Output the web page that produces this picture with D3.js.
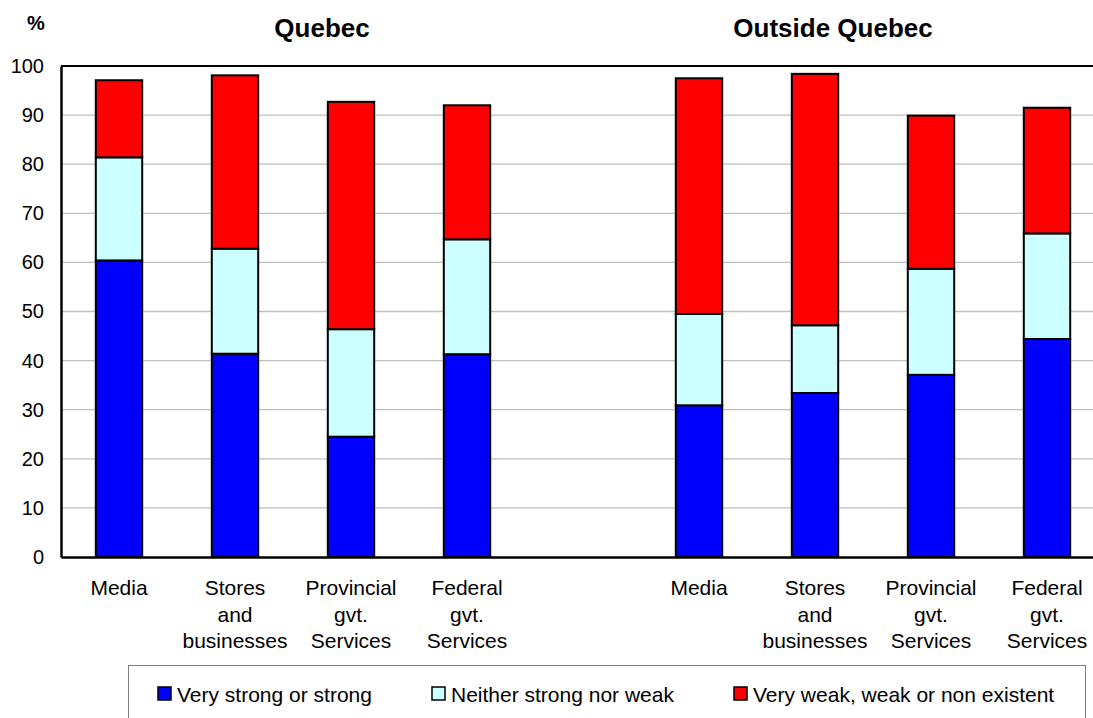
<!DOCTYPE html>
<html lang="en">
<head>
  <meta charset="UTF-8">
  <title>Quebec vs Outside Quebec</title>
  <script src="https://d3js.org/d3.v7.min.js"></script>
  <style>
    body { margin: 0; background: #fff; }
    svg { display: block; font-family: Arial, "Liberation Sans", sans-serif; }
    .tick text { font-size: 20px; fill: #000; }
    .title { font-size: 26px; font-weight: bold; }
    .legend text { font-size: 21px; }
  </style>
</head>
<body>
  <div id="chart"></div>
  <script>
    // data
    const regions = ["Quebec", "Outside Quebec"];
    const categories = ["Media", "Stores and businesses", "Provincial gvt. Services", "Federal gvt. Services"];
    const categoryLines = [["Media"], ["Stores", "and", "businesses"], ["Provincial", "gvt.", "Services"], ["Federal", "gvt.", "Services"]];
    const seriesNames = ["Very strong or strong", "Neither strong nor weak", "Very weak, weak or non existent"];
    // values per region, in category order
    const strongQuebec  = [60.4, 41.4, 24.5, 41.3];
    const neitherQuebec = [21.0, 21.4, 21.9, 23.4];
    const weakQuebec    = [15.7, 35.3, 46.3, 27.3];
    const strongOutside  = [30.9, 33.4, 37.1, 44.4];
    const neitherOutside = [18.6, 13.8, 21.6, 21.5];
    const weakOutside    = [48.0, 51.2, 31.2, 25.6];
    const yTicks = [0, 10, 20, 30, 40, 50, 60, 70, 80, 90, 100];

    const colors = ["#0000ff", "#ccffff", "#ff0000"];

    const width = 1093, height = 718;
    const margin = { top: 66, left: 61, bottom: 161 };
    const plotRight = 1105; // plot area runs past the window edge

    const svg = d3.select("#chart").append("svg")
      .attr("width", width)
      .attr("height", height);

    // build rows: one per bar, with an empty slot between the two regions
    const rows = [];
    const values = [
      [strongQuebec, neitherQuebec, weakQuebec],
      [strongOutside, neitherOutside, weakOutside]
    ];
    regions.forEach((r, ri) => {
      categories.forEach((c, ci) => {
        rows.push({ key: r + "|" + c, ci: ci, s0: values[ri][0][ci], s1: values[ri][1][ci], s2: values[ri][2][ci] });
      });
    });
    const domain = rows.slice(0, 4).map(d => d.key).concat(["gap"]).concat(rows.slice(4).map(d => d.key));

    const x = d3.scaleBand()
      .domain(domain)
      .range([margin.left, plotRight])
      .paddingInner(0.6)
      .paddingOuter(0.3);

    const y = d3.scaleLinear()
      .domain([0, 100])
      .range([height - margin.bottom, margin.top]);

    // gridlines
    svg.append("g")
      .selectAll("line")
      .data(yTicks.filter(t => t > 0 && t < 100))
      .enter().append("line")
      .attr("x1", margin.left).attr("x2", plotRight)
      .attr("y1", d => y(d)).attr("y2", d => y(d))
      .attr("stroke", "#c0c0c0")
      .attr("stroke-width", 1.3);

    // top border of plot area
    svg.append("line")
      .attr("x1", margin.left).attr("x2", plotRight)
      .attr("y1", y(100)).attr("y2", y(100))
      .attr("stroke", "#000").attr("stroke-width", 2);

    // stacked bars
    const stack = d3.stack().keys(["s0", "s1", "s2"]);
    const layers = stack(rows);

    svg.append("g")
      .selectAll("g")
      .data(layers)
      .enter().append("g")
      .attr("fill", (d, i) => colors[i])
      .selectAll("rect")
      .data(d => d)
      .enter().append("rect")
      .attr("x", d => x(d.data.key))
      .attr("y", d => y(d[1]))
      .attr("width", x.bandwidth())
      .attr("height", d => y(d[0]) - y(d[1]))
      .attr("stroke", "#000")
      .attr("stroke-width", 2);

    // y axis
    const yAxis = svg.append("g")
      .attr("transform", `translate(${margin.left},0)`)
      .call(d3.axisLeft(y).tickValues(yTicks).tickSize(0).tickPadding(17));
    yAxis.select(".domain").attr("stroke", "#000").attr("stroke-width", 2.5);
    yAxis.selectAll(".tick text").attr("font-family", null).attr("font-size", null);

    // x axis
    const xAxis = svg.append("g")
      .attr("transform", `translate(0,${y(0)})`)
      .call(d3.axisBottom(x).tickSize(0).tickFormat(""));
    xAxis.select(".domain").attr("stroke", "#000").attr("stroke-width", 2.5);

    // category labels (multi-line)
    const labelRows = rows.map(d => ({ key: d.key, lines: categoryLines[d.ci] }));
    svg.append("g")
      .selectAll("text")
      .data(labelRows)
      .enter().append("text")
      .attr("text-anchor", "middle")
      .attr("font-size", 21)
      .attr("x", d => x(d.key) + x.bandwidth() / 2)
      .attr("y", y(0) + 38)
      .each(function(d) {
        const t = d3.select(this);
        d.lines.forEach((line, i) => {
          t.append("tspan")
            .attr("x", x(d.key) + x.bandwidth() / 2)
            .attr("dy", i === 0 ? 0 : 26.7)
            .text(line);
        });
      });

    // titles
    svg.append("text").attr("class", "title")
      .attr("x", 36).attr("y", 30).attr("text-anchor", "middle")
      .style("font-size", "20px")
      .text("%");
    svg.append("text").attr("class", "title")
      .attr("x", 322).attr("y", 37).attr("text-anchor", "middle")
      .text(regions[0]);
    svg.append("text").attr("class", "title")
      .attr("x", 833).attr("y", 37).attr("text-anchor", "middle")
      .text(regions[1]);

    // legend
    const legend = svg.append("g").attr("class", "legend");
    legend.append("rect")
      .attr("x", 128.5).attr("y", 665.5)
      .attr("width", 957).attr("height", 80)
      .attr("fill", "#fff")
      .attr("stroke", "#808080")
      .attr("stroke-width", 1);
    const legendX = [158, 432, 734];
    seriesNames.forEach((name, i) => {
      legend.append("rect")
        .attr("x", legendX[i]).attr("y", 687)
        .attr("width", 13).attr("height", 13)
        .attr("fill", colors[i])
        .attr("stroke", "#000").attr("stroke-width", 1.5);
      legend.append("text")
        .attr("x", legendX[i] + 19).attr("y", 702)
        .text(name);
    });
  </script>
</body>
</html>
